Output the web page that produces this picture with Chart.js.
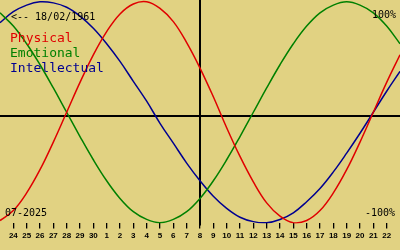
<!DOCTYPE html>
<html>
<head>
<meta charset="utf-8">
<script src="https://cdn.jsdelivr.net/npm/chart.js@4"></script>
<style>
  html, body { margin: 0; padding: 0; background: #e1d282; }
  #wrap { width: 400px; height: 250px; }
</style>
</head>
<body>
<div id="wrap"><canvas id="bio"></canvas></div>
<script>
// days from 23 June to 23 July 2025, today = 8 July (index 15)
var days = ["23","24","25","26","27","28","29","30","1","2","3","4","5","6","7","8",
            "9","10","11","12","13","14","15","16","17","18","19","20","21","22","23"];
var physical = [-98,-89,-73,-52,-27,0,27,52,73,89,98,100,94,82,63,40,
                14,-14,-40,-63,-82,-94,-100,-98,-89,-73,-52,-27,0,27,52];
var emotional = [90,78,62,43,22,0,-22,-43,-62,-78,-90,-97,-100,-97,-90,-78,
                 -62,-43,-22,0,22,43,62,78,90,97,100,97,90,78,62];
var intellectual = [81,91,97,100,99,95,87,76,62,46,28,10,-10,-28,-46,-62,
                    -76,-87,-95,-99,-100,-97,-91,-81,-69,-54,-37,-19,0,19,37];
var todayIndex = 15;
var axisLevel = -3;   // the baseline sits a touch under zero in the original
var birth = "18/02/1961";
var month = "07-2025";

var bg = "#e1d282";

var decor = {
    id: 'decor',
    beforeDraw: function(chart) {
        var c = chart.ctx;
        c.save();
        c.fillStyle = bg;
        c.fillRect(0, 0, chart.width, chart.height);
        c.restore();
    },
    beforeDatasetsDraw: function(chart) {
        var c = chart.ctx, a = chart.chartArea;
        var x = chart.scales.x, y = chart.scales.y;
        c.save();
        c.strokeStyle = "#000";
        c.lineWidth = 2;
        var y0 = Math.round(y.getPixelForValue(axisLevel));
        c.beginPath(); c.moveTo(0, y0); c.lineTo(chart.width, y0); c.stroke();
        var xt = Math.round(x.getPixelForValue(todayIndex));
        c.beginPath(); c.moveTo(xt, 0); c.lineTo(xt, a.bottom + 2); c.stroke();
        c.restore();
    },
    afterDatasetsDraw: function(chart) {
        var c = chart.ctx;
        c.save();
        c.textBaseline = "alphabetic";
        c.fillStyle = "#000";
        c.font = "10px 'DejaVu Sans Mono'";
        c.textAlign = "left";
        c.fillText("<-- " + birth, 11, 20);
        c.fillText(month, 5, 216);
        c.textAlign = "right";
        c.fillText("100%", 396, 18);
        c.fillText("-100%", 395, 216);
        c.textAlign = "left";
        c.font = "13px 'DejaVu Sans Mono'";
        c.fillStyle = "#e00000"; c.fillText("Physical", 10, 42);
        c.fillStyle = "#008000"; c.fillText("Emotional", 10, 57);
        c.fillStyle = "#000090"; c.fillText("Intellectual", 10, 72);
        c.restore();
    }
};

new Chart(document.getElementById("bio"), {
    type: 'line',
    data: {
        labels: days,
        datasets: [
            { label: "Physical", data: physical, borderColor: "#e00000" },
            { label: "Emotional", data: emotional, borderColor: "#008000" },
            { label: "Intellectual", data: intellectual, borderColor: "#000090" }
        ]
    },
    options: {
        responsive: true,
        maintainAspectRatio: false,
        animation: false,
        layout: { autoPadding: false, padding: { left: 0, right: 0, top: 0, bottom: 6 } },
        elements: {
            line: { borderWidth: 1.5, tension: 0.4, fill: false },
            point: { radius: 0 }
        },
        plugins: { legend: { display: false }, tooltip: { enabled: false } },
        scales: {
            x: {
                offset: false,
                border: { display: false },
                afterFit: function(s) {
                    // let the days run edge to edge
                    s.paddingLeft = 0;
                    s.paddingRight = 0;
                },
                grid: {
                    display: true,
                    drawOnChartArea: false,
                    drawTicks: true,
                    tickLength: 5,
                    lineWidth: 1.3,
                    color: function(ctx) {
                        return (ctx.index === 0 || ctx.index === days.length - 1) ? 'rgba(0,0,0,0)' : '#000';
                    }
                },
                ticks: {
                    autoSkip: false,
                    maxRotation: 0,
                    padding: 3,
                    color: "#000",
                    font: { family: "'Liberation Sans'", size: 8, weight: 'bold' },
                    callback: function(v, i) {
                        return (i === 0 || i === days.length - 1) ? '' : days[i];
                    }
                }
            },
            y: {
                display: false,
                min: -100.6,
                max: 101.6
            }
        }
    },
    plugins: [decor]
});
</script>
</body>
</html>
